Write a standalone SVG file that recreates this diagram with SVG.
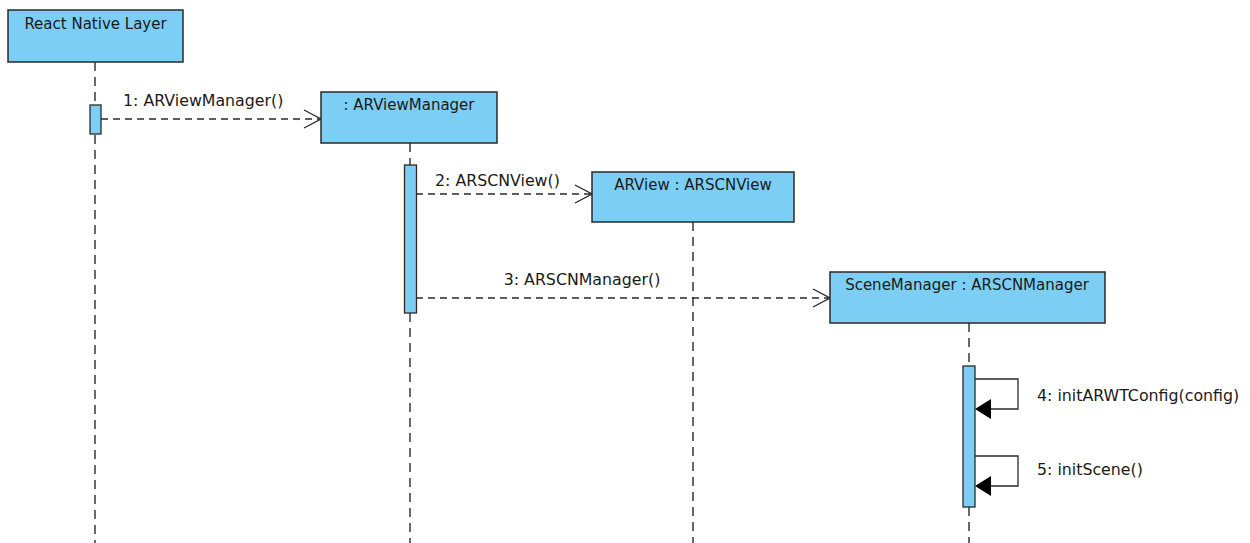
<svg xmlns="http://www.w3.org/2000/svg" width="1250" height="543" viewBox="0 0 1250 543">
<defs>
<style>
.box{fill:#7DCEF4;stroke:#2a2a2a;stroke-width:1.5}
.act{fill:#7DCEF4;stroke:#2a2a2a;stroke-width:1.3}
.life{stroke:#2a2a2a;stroke-width:1.4;stroke-dasharray:9 6;fill:none}
.msg{stroke:#2a2a2a;stroke-width:1.3;stroke-dasharray:7 5;fill:none}
.self{stroke:#2a2a2a;stroke-width:1.3;fill:none}
.open{stroke:#2a2a2a;stroke-width:1.4;fill:none}
text{font-family:"DejaVu Sans","Liberation Sans",sans-serif;font-size:15px;fill:#1a1a1a}
.lbl{font-size:15.8px}
.t{text-anchor:middle}
</style>
</defs>
<g id="connectors">
<path class="life" d="M95,62 V105 M95,135 V543"/>
<path class="life" d="M410,143 V165 M410,313 V543"/>
<path class="life" d="M693,222 V543"/>
<path class="life" d="M969,323 V366 M969,507 V543"/>
<g id="m1">
<path class="msg" d="M101,119 H320"/>
<path class="open" d="M304,110 L321,119 L304,128"/>
<text x="123" y="106" class="lbl">1: ARViewManager()</text>
</g>
<g id="m2">
<path class="msg" d="M416,194 H591"/>
<path class="open" d="M575,185 L592,194 L575,203"/>
<text x="435" y="186" class="lbl">2: ARSCNView()</text>
</g>
<g id="m3">
<path class="msg" d="M416,298 H829"/>
<path class="open" d="M813,289 L830,298 L813,307"/>
<text x="582" y="285" class="t lbl">3: ARSCNManager()</text>
</g>
<g id="m4">
<path class="self" d="M975,379 H1018 V409 H990"/>
<path d="M975,409 L991,399 L991,419 Z" fill="#000"/>
<text x="1037" y="401" class="lbl">4: initARWTConfig(config)</text>
</g>
<g id="m5">
<path class="self" d="M975,456 H1018 V486 H990"/>
<path d="M975,486 L991,476 L991,496 Z" fill="#000"/>
<text x="1037" y="475" class="lbl">5: initScene()</text>
</g>
</g>
<g id="rn">
<rect class="box" x="8" y="10" width="175" height="52"/>
<text x="95.5" y="28.5" class="t">React Native Layer</text>
<rect class="act" x="90" y="105" width="11" height="29"/>
</g>
<g id="avm">
<rect class="box" x="321" y="92" width="176" height="51"/>
<text x="409" y="109.5" class="t">: ARViewManager</text>
<rect class="act" x="404.5" y="165" width="12" height="148"/>
</g>
<g id="arview">
<rect class="box" x="592" y="172" width="202" height="50"/>
<text x="693" y="189.5" class="t">ARView : ARSCNView</text>
</g>
<g id="scene">
<rect class="box" x="830" y="272" width="275" height="51"/>
<text x="967" y="289.5" class="t">SceneManager : ARSCNManager</text>
<rect class="act" x="963" y="366" width="12" height="141"/>
</g>
</svg>
